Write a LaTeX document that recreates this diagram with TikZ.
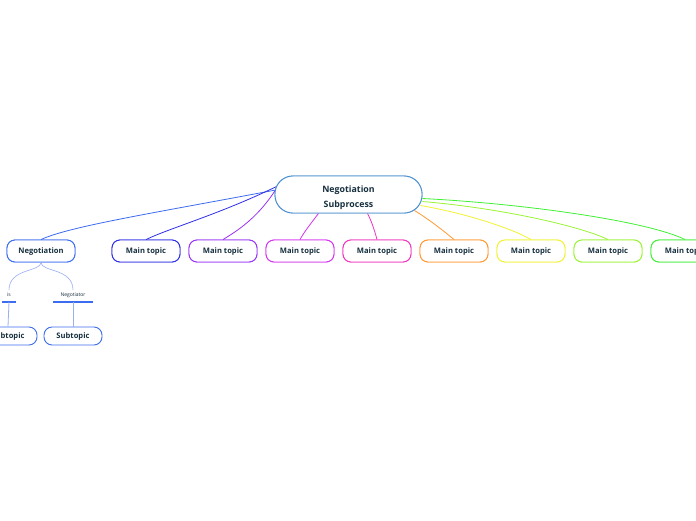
\documentclass[tikz,border=0pt]{standalone}
\usepackage{fontspec}
\setmainfont{Open Sans}
\definecolor{txt}{HTML}{17303F}
\definecolor{cblue}{HTML}{3C6CF0}
\definecolor{cblue2}{HTML}{2F2FE8}
\definecolor{cpurple}{HTML}{9933F5}
\definecolor{cmag}{HTML}{D633F0}
\definecolor{cpink}{HTML}{F033C0}
\definecolor{corange}{HTML}{FF9A33}
\definecolor{cyellow}{HTML}{F2F233}
\definecolor{clgreen}{HTML}{99F533}
\definecolor{cgreen}{HTML}{40F033}
\definecolor{cctr}{HTML}{4A90D0}
\definecolor{clight}{HTML}{9AAEF5}
\begin{document}
\begin{tikzpicture}[x=1pt,y=-1pt,
  center/.style={draw=cctr,line width=0.9pt,rounded corners=18pt,minimum width=147pt,minimum height=37pt,fill=white},
  ctxt/.style={align=center,font=\fontsize{8.8}{14.5}\selectfont\bfseries,text=txt,inner sep=0pt},
  topic/.style={draw=#1,line width=0.9pt,rounded corners=8pt,minimum width=68pt,minimum height=22pt,font=\fontsize{7.6}{9}\selectfont\bfseries,text=txt,fill=white,inner sep=0pt,text depth=0pt,text height=5.6pt},
  sub/.style={draw=cblue,line width=0.9pt,rounded corners=8pt,minimum width=58pt,minimum height=18pt,font=\fontsize{7.6}{9}\selectfont\bfseries,text=txt,fill=white,inner sep=0pt,text depth=0pt,text height=5.6pt},
  lbl/.style={font=\fontsize{5}{6}\selectfont,text=txt,inner sep=0pt},
  conn/.style={draw=#1,line width=0.8pt},
]
\useasboundingbox (0,0) rectangle (696,520);
\clip (0,0) rectangle (696,520);
\fill[white] (0,0) rectangle (696,520);

\coordinate (cc) at (348.5,194.5);
\node[center] (c) at (cc) {};

\node[topic=cblue] (n0) at (41,251) {Negotiation};
\node[topic=cblue2] (n1) at (146,251) {Main topic};
\node[topic=cpurple] (n2) at (223,251) {Main topic};
\node[topic=cmag] (n3) at (300,251) {Main topic};
\node[topic=cpink] (n4) at (377,251) {Main topic};
\node[topic=corange] (n5) at (454,251) {Main topic};
\node[topic=cyellow] (n6) at (531,251) {Main topic};
\node[topic=clgreen] (n7) at (608,251) {Main topic};
\node[topic=cgreen] (n8) at (685,251) {Main topic};

% connectors
\draw[conn=cblue] ([xshift=1pt,yshift=4.5pt]c.west) .. controls (160,212) and (70,226) .. (n0.north);
\draw[conn=cblue2] ([xshift=2pt,yshift=8pt]c.west) .. controls (220,214) and (170,228) .. (n1.north);
\draw[conn=cpurple] ([xshift=6pt,yshift=13pt]c.west) .. controls (260,218) and (235,232) .. (n2.north);
\draw[conn=cmag] ([xshift=-30pt]c.south) .. controls (312,222) and (304,232) .. (n3.north);
\draw[conn=cpink] ([xshift=19pt]c.south) .. controls (372,222) and (375,232) .. (n4.north);
\draw[conn=corange] ([xshift=-8pt,yshift=-16pt]c.east) .. controls (430,220) and (445,232) .. (n5.north);
\draw[conn=cyellow] ([xshift=-2pt,yshift=-11pt]c.east) .. controls (470,214) and (515,230) .. (n6.north);
\draw[conn=clgreen] ([yshift=-7pt]c.east) .. controls (500,208) and (580,226) .. (n7.north);
\draw[conn=cgreen] ([yshift=-4pt]c.east) .. controls (530,204) and (650,222) .. (n8.north);

% redraw nodes on top of connectors
\node[center] at (cc) {};
\node[ctxt] (ct) at ([yshift=-3pt]cc) {Negotiation\\Subprocess};
\node[topic=cblue] at (n0) {Negotiation};
\node[topic=cblue2] at (n1) {Main topic};
\node[topic=cpurple] at (n2) {Main topic};
\node[topic=cmag] at (n3) {Main topic};
\node[topic=cpink] at (n4) {Main topic};
\node[topic=corange] at (n5) {Main topic};
\node[topic=cyellow] at (n6) {Main topic};
\node[topic=clgreen] at (n7) {Main topic};
\node[topic=cgreen] at (n8) {Main topic};

% sub branch
\node[lbl] (l1) at (9,295) {is};
\node[lbl] (l2) at (73,295) {Negotiator};
\coordinate (u1a) at (2,302);
\coordinate (u1b) at (16,302);
\coordinate (u2a) at (53,302);
\coordinate (u2b) at (93,302);
\draw[cblue,line width=1.3pt] (u1a) -- (u1b);
\draw[cblue,line width=1.3pt] (u2a) -- (u2b);
\coordinate (b1) at (9,290);
\coordinate (b2) at (73,290);
\draw[clight,line width=0.6pt] (n0.south) .. controls (41,272) and (9,268) .. (b1);
\draw[clight,line width=0.6pt] (n0.south) .. controls (41,272) and (73,268) .. (b2);

\node[sub] (s1) at (8,336) {Subtopic};
\node[sub] (s2) at (73,336) {Subtopic};
\coordinate (v1) at (9,302);
\coordinate (v2) at (73,302);
\draw[clight,line width=0.8pt] (v1) -- (s1.north);
\draw[clight,line width=0.8pt] (v2) -- (s2.north);
\end{tikzpicture}
\end{document}
